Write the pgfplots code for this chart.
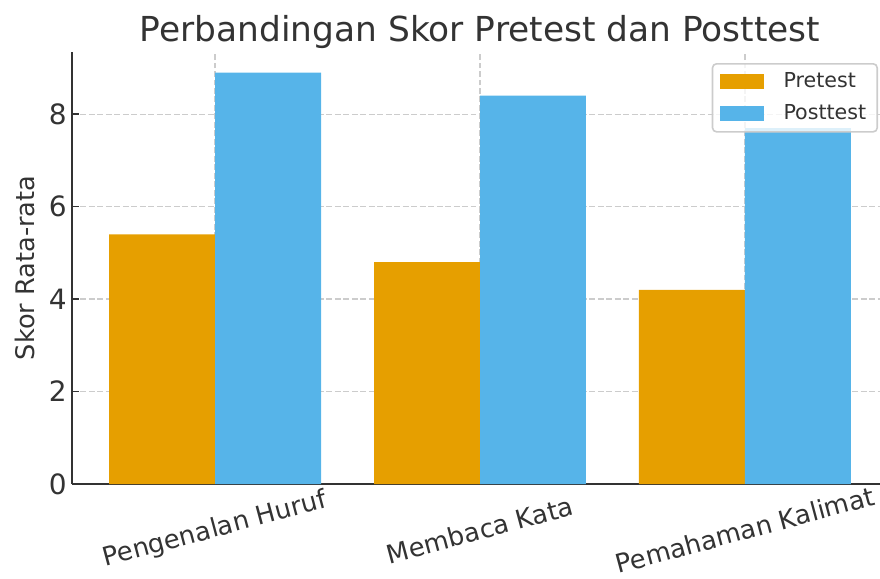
\documentclass[border=0pt]{standalone}
\usepackage{pgfplots}
\pgfplotsset{compat=1.18}
\usepackage{fontspec}
\setmainfont{DejaVu Sans}
\definecolor{pre}{HTML}{E69F00}
\definecolor{post}{HTML}{56B4E9}
\definecolor{txt}{HTML}{333333}
\definecolor{gridc}{HTML}{CCCCCC}
\begin{document}
\begin{tikzpicture}
\begin{axis}[
  at={(0,0)}, anchor=south west,
  scale only axis, width=408pt, height=216pt,
  xmin=-0.54, xmax=2.54, ymin=0, ymax=9.345,
  axis lines*=left,
  axis line style={line width=1pt, color=txt},
  ybar, bar width=0.4,
  xtick={0,1,2},
  xticklabels={Pengenalan Huruf, Membaca Kata, Pemahaman Kalimat},
  ytick={0,2,4,6,8},
  tick align=inside, major tick length=3.5pt,
  tick style={line width=0.8pt, color=txt},
  xmajorgrids, ymajorgrids,
  grid style={line width=0.6pt, color=gridc, dash pattern=on 2.96pt off 1.28pt},
  /pgf/number format/assume math mode=true,
  yticklabel style={font=\fontsize{14}{16}\selectfont, text=txt, inner xsep=2.4pt},
  xticklabel style={font=\fontsize{12.9}{15}\selectfont, text=txt, yshift=-23pt, rotate=15, anchor=center},
  title={Perbandingan Skor Pretest dan Posttest},
  every axis title shift=0pt,
  title style={font=\fontsize{17.2}{20}\selectfont, text=txt, at={(axis description cs:0.5,1.046)}, anchor=center},
  ylabel={Skor Rata-rata},
  every axis y label/.style={at={(axis description cs:-0.0576,0.5)}, rotate=90, anchor=center, font=\fontsize{12.8}{15}\selectfont, text=txt},
  legend style={at={(axis description cs:0.98775,0.97454)}, anchor=north east,
    draw=gridc, line width=0.8pt, rounded corners=2pt, fill=white, fill opacity=0.8,
    text opacity=1, draw opacity=1, font=\fontsize{10.3}{12}\selectfont, text=txt,
    inner xsep=3.5pt, inner ysep=2.5pt, row sep=3pt,
    /tikz/every odd column/.append style={column sep=8pt}},
  legend cell align=left,
  legend image code/.code={\fill[#1, fill opacity=1, sharp corners] (0pt,-3.75pt) rectangle (22pt,3.75pt);},
]
\addplot[fill=pre, draw=none, bar shift=-0.2] coordinates {(0,5.4) (1,4.8) (2,4.2)};
\addplot[fill=post, draw=none, bar shift=0.2] coordinates {(0,8.9) (1,8.4) (2,7.7)};
\legend{Pretest, Posttest}
\end{axis}
\pgfresetboundingbox
\useasboundingbox (-36pt,-47.5pt) rectangle (404pt,242pt);
\end{tikzpicture}
\end{document}
